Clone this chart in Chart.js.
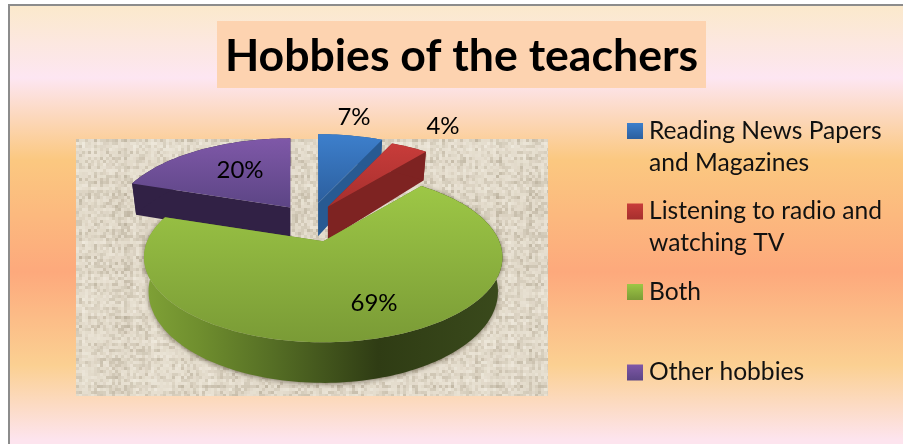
<!DOCTYPE html>
<html>
<head>
<meta charset="utf-8">
<title>Hobbies of the teachers</title>
<script src="https://cdn.jsdelivr.net/npm/chart.js@4"></script>
<style>
    html, body { margin: 0; padding: 0; background: #fff; }
    #wrap { position: relative; width: 903px; height: 444px; }
</style>
</head>
<body>
<div id="wrap"><canvas id="hobbyChart" width="903" height="444"></canvas></div>
<script>
const chartTitle = 'Hobbies of the teachers';
const categories = [
    ['Reading News Papers', 'and Magazines'],
    ['Listening to radio and', 'watching TV'],
    ['Both'],
    ['Other hobbies']
];
const values = [7, 4, 69, 20];
const valueLabels = ['7%', '4%', '69%', '20%'];
const exploded = [21, 19, 27, 19];

// top face, side wall and legend colours per slice
const topColors = [['#3D7FCC', '#2C5F9E'], ['#C83C3A', '#A62F2D'], ['#9DC746', '#7A9B36'], ['#7F58A8', '#5C4585']];
const wallColors = ['#285A92', '#7E2322', '#5E7C2A', '#312145'];

// fake 3D view: the pie is flattened and tilted by hand
const XS = 176, YS = 82, PERSP = 0.188, DEPTH = 33;
const labelSpots = [[354, 117], [443, 126], [374, 303], [240, 170]];

function project(theta, f, lower) {
    const s = Math.sin(theta), c = Math.cos(theta);
    const w = 1 + PERSP * c * f;
    const x = XS * s * f / w;
    const y = -YS * c * f / w;
    return lower ? [x * 0.975, y + DEPTH / w] : [x, y];
}

function noise(i) {
    const v = Math.sin(i * 12.9898) * 43758.5453;
    return v - Math.floor(v);
}

function drawBackdrop(ctx) {
    const bg = ctx.createLinearGradient(0, 6, 0, 440);
    bg.addColorStop(0, '#FBE9CC');
    bg.addColorStop(0.166, '#FDE6F2');
    bg.addColorStop(0.355, '#FBC880');
    bg.addColorStop(0.613, '#FDA97C');
    bg.addColorStop(0.828, '#FBD092');
    bg.addColorStop(1, '#FDE4EE');
    ctx.fillStyle = '#fff';
    ctx.fillRect(0, 0, 903, 444);
    ctx.fillStyle = bg;
    ctx.fillRect(8, 5, 895, 439);
    ctx.fillStyle = '#8C8C8C';
    ctx.fillRect(8, 4, 895, 2);
    ctx.fillRect(8, 4, 2, 440);
}

function drawLinen(ctx) {
    const left = 76, top = 139, w = 472, h = 257, cell = 3;
    ctx.fillStyle = '#E2DACA';
    ctx.fillRect(left, top, w, h);
    for (let r = 0; r < h / cell; r++) {
        for (let q = 0; q < w / cell; q++) {
            const n = noise(q + 11) * 0.22 + noise(r * 3 + 7) * 0.22 + noise(q * 131 + r) * 0.56;
            ctx.fillStyle = n > 0.5 ? 'rgba(248,244,234,' + ((n - 0.5) * 1.2).toFixed(2) + ')'
                                    : 'rgba(150,138,115,' + ((0.5 - n) * 1.0).toFixed(2) + ')';
            ctx.fillRect(left + q * cell, top + r * cell, Math.min(cell, w - q * cell), Math.min(cell, h - r * cell));
        }
    }
}

function tracePoly(ctx, pts) {
    ctx.beginPath();
    pts.forEach((p, i) => i ? ctx.lineTo(p[0], p[1]) : ctx.moveTo(p[0], p[1]));
    ctx.closePath();
}

function drawSlice(ctx, arc, i) {
    const a0 = arc.startAngle + Math.PI / 2;
    const a1 = arc.endAngle + Math.PI / 2;
    const mid = (a0 + a1) / 2;
    const off = arc.options.offset / arc.outerRadius;
    const ox = arc.x + off * Math.sin(mid) * XS;
    const oy = arc.y - off * Math.cos(mid) * YS;
    const at = (theta, f, lower) => {
        const p = project(theta, f, lower);
        return [ox + p[0], oy + p[1]];
    };
    const steps = Math.ceil((a1 - a0) * 40);
    const outerTop = [], outerLow = [];
    for (let k = 0; k <= steps; k++) {
        const t = a0 + (a1 - a0) * k / steps;
        outerTop.push(at(t, 1, false));
        outerLow.push(at(t, 1, true));
    }
    const wall = wallColors[i];

    // cut faces
    [a0, a1].forEach(t => {
        tracePoly(ctx, [at(t, 0, false), at(t, 1, false), at(t, 1, true), at(t, 0, true)]);
        ctx.fillStyle = wall;
        ctx.fill();
    });

    // outer wall
    let wallFill = wall;
    if (i === 2) {
        wallFill = ctx.createLinearGradient(146, 0, 503, 0);
        wallFill.addColorStop(0, '#7FA136');
        wallFill.addColorStop(0.15, '#6F8E2E');
        wallFill.addColorStop(0.35, '#566F25');
        wallFill.addColorStop(0.65, '#2F3C14');
        wallFill.addColorStop(1, '#3A4A1C');
    }
    tracePoly(ctx, outerTop.concat(outerLow.slice().reverse()));
    ctx.save();
    if (i === 2) {
        ctx.shadowColor = 'rgba(60,50,30,0.6)';
        ctx.shadowBlur = 5;
        ctx.shadowOffsetY = 1;
    }
    ctx.fillStyle = wallFill;
    ctx.fill();
    ctx.restore();

    // top face
    const ys = outerTop.map(p => p[1]).concat(oy);
    const grad = ctx.createLinearGradient(0, Math.min.apply(null, ys), 0, Math.max.apply(null, ys));
    grad.addColorStop(0, topColors[i][0]);
    grad.addColorStop(1, topColors[i][1]);
    tracePoly(ctx, [[ox, oy]].concat(outerTop));
    ctx.fillStyle = grad;
    ctx.fill();
}

function drawTitle(ctx) {
    ctx.fillStyle = '#FDD3B0';
    ctx.fillRect(217, 21, 489, 67);
    ctx.fillStyle = '#000';
    ctx.font = 'bold 44.6px Lato';
    ctx.textAlign = 'center';
    ctx.textBaseline = 'middle';
    ctx.fillText(chartTitle, 461.5, 57);
}

function drawLegend(ctx) {
    ctx.font = '24.6px Lato';
    ctx.textAlign = 'left';
    ctx.textBaseline = 'middle';
    categories.forEach((lines, i) => {
        const y = 123 + i * 80.5;
        const g = ctx.createLinearGradient(0, y, 0, y + 16);
        g.addColorStop(0, topColors[i][0]);
        g.addColorStop(1, topColors[i][1]);
        ctx.fillStyle = g;
        ctx.fillRect(627, y, 16, 16);
        ctx.fillStyle = '#111';
        lines.forEach((line, n) => ctx.fillText(line, 649, y + 8 + n * 32));
    });
}

const pie3d = {
    id: 'pie3d',
    beforeDraw(chart) {
        drawBackdrop(chart.ctx);
        drawLinen(chart.ctx);
    },
    beforeDatasetDraw(chart, args) {
        const ctx = chart.ctx;
        const arcs = chart.getDatasetMeta(args.index).data;
        [3, 0, 1, 2].forEach(i => drawSlice(ctx, arcs[i], i));
        return false;
    },
    afterDraw(chart) {
        const ctx = chart.ctx;
        drawTitle(ctx);
        drawLegend(ctx);
        ctx.font = '24px Lato';
        ctx.textAlign = 'center';
        ctx.textBaseline = 'middle';
        ctx.fillStyle = '#000';
        valueLabels.forEach((t, i) => ctx.fillText(t, labelSpots[i][0], labelSpots[i][1]));
    }
};

new Chart(document.getElementById('hobbyChart').getContext('2d'), {
    type: 'pie',
    data: {
        labels: categories,
        datasets: [{ data: values, offset: exploded, borderWidth: 0 }]
    },
    options: {
        responsive: false,
        animation: false,
        radius: 100,
        layout: { padding: { left: 76, right: 359, top: 0, bottom: 4 } },
        plugins: { legend: { display: false }, tooltip: { enabled: false } }
    },
    plugins: [pie3d]
});
</script>
</body>
</html>
